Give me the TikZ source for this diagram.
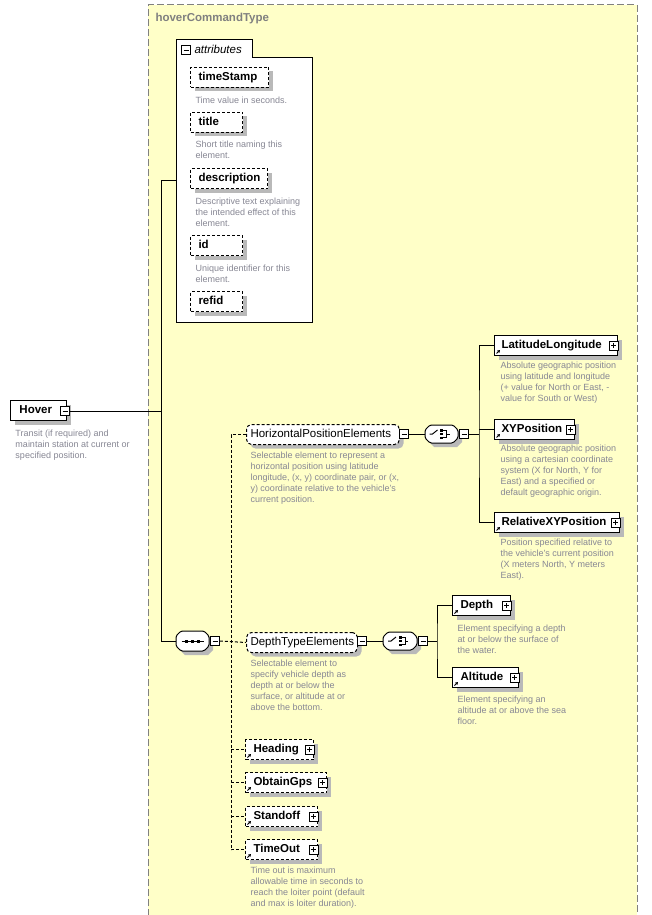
\documentclass[tikz,border=0pt]{standalone}
\usepackage{fontspec}
\setmainfont{Liberation Sans}
\usetikzlibrary{shadows,arrows.meta}
\definecolor{ybg}{RGB}{255,255,200}
\definecolor{ygrid}{RGB}{128,128,128}
\definecolor{desc}{RGB}{135,135,148}
\definecolor{shadowgray}{RGB}{185,185,185}
\tikzset{
  elem/.style={draw=black, fill=white, anchor=north west, inner xsep=0pt, inner ysep=0pt,
    minimum height=20pt, align=left, text height=8.5pt, text depth=2.5pt,
    font=\fontsize{11.5}{13}\selectfont\bfseries,
    drop shadow={fill=shadowgray, opacity=1, shadow xshift=4pt, shadow yshift=-4pt}},
  opt/.style={dash pattern=on 3pt off 2pt},
  grp/.style={elem, rounded corners=5pt, font=\fontsize{11.5}{13}\selectfont},
  dsc/.style={anchor=north west, inner sep=0pt, align=left, text=desc, font=\fontsize{9}{11}\selectfont},
  pm/.style={draw=black, fill=white, minimum size=9pt, inner sep=0pt, line width=0.8pt},
  anchorbox/.style={minimum width=#1, minimum height=19pt, inner sep=0pt},
  conn/.style={line width=1pt},
  dconn/.style={line width=1pt, dash pattern=on 3pt off 2pt},
  refarr/.style={line width=0.9pt, -{Triangle[length=2.6pt,width=3pt]}},
}
\newcommand\minusin[1]{\draw[line width=0.8pt] ([xshift=-2.5pt]#1.center) -- ([xshift=2.5pt]#1.center);}
\newcommand\plusin[1]{\minusin{#1}\draw[line width=0.8pt] ([yshift=-2.5pt]#1.center) -- ([yshift=2.5pt]#1.center);}
\newcommand\refmark[1]{\draw[refarr] ([xshift=2.5pt,yshift=2.5pt]#1.south west) -- ++(3.5,-3.5);}
\newcommand\octa[4]{(#1+5,#2) -- (#3-5,#2) -- (#3,#2+5) -- (#3,#4-5) -- (#3-5,#4) -- (#1+5,#4) -- (#1,#4-5) -- (#1,#2+5) -- cycle}
\begin{document}
\begin{tikzpicture}[x=1pt,y=-1pt,line width=1pt]
\useasboundingbox[fill=white] (0,0) rectangle (652,915);
% yellow complex type area
\fill[ybg] (148,5) rectangle (637,915);
\draw[ygrid, dash pattern=on 7pt off 3pt] (148,916) -- (148,5) -- (637,5) -- (637,916);
\node[anchor=west, inner sep=0pt, text=ygrid, font=\fontsize{11.5}{13}\selectfont\bfseries] (ttl) at (155,19) {hoverCommandType};

% attributes frame
\draw[fill=white] (176,322) -- (176,40) -- (252,40) -- (252,58) -- (312,58) -- (312,322) -- cycle;
\node[pm] (attrm) at (186,50) {}; \minusin{attrm}
\node[anchor=west, inner sep=0pt, font=\fontsize{11.5}{13}\selectfont\itshape] (attrt) at (194,49) {attributes};
\coordinate (attrL) at (176,180);

\node[elem,opt,text width=78pt] (ts) at (190,67) {\hspace*{8pt}timeStamp};
\node[dsc] (tsd) at (195,96) {Time value in seconds.};
\node[elem,opt,text width=52pt] (tt) at (190,112) {\hspace*{8pt}title};
\node[dsc] (ttd) at (195,140) {Short title naming this\\element.};
\node[elem,opt,text width=77pt] (de) at (190,168) {\hspace*{8pt}description};
\node[dsc] (ded) at (195,197) {Descriptive text explaining\\the intended effect of this\\element.};
\node[elem,opt,text width=52pt] (idn) at (190,235) {\hspace*{8pt}id};
\node[dsc] (idd) at (195,264) {Unique identifier for this\\element.};
\node[elem,opt,text width=52pt] (rf) at (190,291) {\hspace*{8pt}refid};

% Hover root
\node[elem,text width=56pt] (hover) at (10,400) {\hspace*{9pt}Hover};
\node[pm] (hoverm) at (65,411) {}; \minusin{hoverm}
\node[dsc] (hoverd) at (15,429) {Transit (if required) and\\maintain station at current or\\specified position.};

% sequence
\coordinate (trunk) at (161,641);
\fill[shadowgray, shift={(4,4)}] \octa{176}{631}{209}{651};
\draw[fill=white, rounded corners=1.5pt] \octa{176}{631}{209}{651};
\node[anchorbox=33pt] (seq) at (192.5,641) {};
\begin{scope}[shift={(192.5,641)}]
  \draw[line width=1pt] (-11,0) -- (11,0);
  \fill (-7.5,-1.5) rectangle (-4.5,1.5);
  \fill (-1.5,-1.5) rectangle (1.5,1.5);
  \fill (4.5,-1.5) rectangle (7.5,1.5);
\end{scope}
\node[pm] (seqm) at (215,641) {}; \minusin{seqm}

\draw[conn] (hoverm.east) -- (hoverm.east -| trunk);
\draw[conn] (attrL) -| (trunk) -- (seq.west);

% HorizontalPositionElements
\node[grp,opt,text width=153pt] (hpe) at (246,424) {\hspace*{4pt}HorizontalPositionElements};
\node[pm] (hpem) at (404,434) {}; \minusin{hpem}
\node[dsc] (hped) at (250,451) {Selectable element to represent a\\horizontal position using latitude\\longitude, (x, y) coordinate pair, or (x,\\y) coordinate relative to the vehicle's\\current position.};

\fill[shadowgray, shift={(4,4)}] \octa{425}{425}{458}{443};
\draw[fill=white, rounded corners=1.5pt] \octa{425}{425}{458}{443};
\node[anchorbox=33pt] (ch1) at (441.5,434) {};
\begin{scope}[shift={(441.5,434)}]
  \draw[line width=1pt] (-12,0) -- (-9,0) -- (-4,-4);
  \fill (-1.5,-5) rectangle (1.5,-2.5);
  \fill (-1.5,-1.3) rectangle (1.5,1.3);
  \fill (-1.5,2.5) rectangle (1.5,5);
  \draw[line width=1pt] (1.5,-3.75) -- (5,-3.75) -- (5,3.75) -- (1.5,3.75);
  \draw[line width=1pt] (5,0) -- (8,0);
\end{scope}
\node[pm] (ch1m) at (464,434) {}; \minusin{ch1m}
\coordinate (c1x) at (479,434);

\node[elem,text width=123pt] (latlon) at (494,335) {\hspace*{7pt}LatitudeLongitude};
\node[pm] (latlonp) at ([xshift=-4.5pt]latlon.east) {}; \plusin{latlonp} \refmark{latlon}
\node[dsc] (latlond) at (500,361) {Absolute geographic position\\using latitude and longitude\\(+ value for North or East, -\\value for South or West)};
\node[elem,text width=80pt] (xy) at (494,419) {\hspace*{7pt}XYPosition};
\node[pm] (xyp) at ([xshift=-4.5pt]xy.east) {}; \plusin{xyp} \refmark{xy}
\node[dsc] (xyd) at (500,444) {Absolute geographic position\\using a cartesian coordinate\\system (X for North, Y for\\East) and a specified or\\default geographic origin.};
\node[elem,text width=125pt] (rel) at (494,512) {\hspace*{7pt}RelativeXYPosition};
\node[pm] (relp) at ([xshift=-4.5pt]rel.east) {}; \plusin{relp} \refmark{rel}
\node[dsc] (reld) at (500,538) {Position specified relative to\\the vehicle's current position\\(X meters North, Y meters\\East).};

\draw[conn] (hpem.east) -- (ch1.west);
\draw[conn] (ch1m.east) -- (c1x);
\draw[conn] (latlon.west) -| (c1x) |- (rel.west);
\draw[conn] (xy.west) -- (xy.west -| c1x);

% DepthTypeElements
\node[grp,opt,text width=111pt] (dte) at (246,632) {\hspace*{4pt}DepthTypeElements};
\node[pm] (dtem) at (362,641) {}; \minusin{dtem}
\node[dsc] (dted) at (250,659) {Selectable element to\\specify vehicle depth as\\depth at or below the\\surface, or altitude at or\\above the bottom.};

\fill[shadowgray, shift={(4,4)}] \octa{383}{632}{417}{650};
\draw[fill=white, rounded corners=1.5pt] \octa{383}{632}{417}{650};
\node[anchorbox=34pt] (ch2) at (400,641) {};
\begin{scope}[shift={(400,641)}]
  \draw[line width=1pt] (-12,0) -- (-9,0) -- (-4,-4);
  \fill (-1.5,-5) rectangle (1.5,-2.5);
  \fill (-1.5,-1.3) rectangle (1.5,1.3);
  \fill (-1.5,2.5) rectangle (1.5,5);
  \draw[line width=1pt] (1.5,-3.75) -- (5,-3.75) -- (5,3.75) -- (1.5,3.75);
  \draw[line width=1pt] (5,0) -- (8,0);
\end{scope}
\node[pm] (ch2m) at (423,641) {}; \minusin{ch2m}
\coordinate (c2x) at (437,641);

\node[elem,text width=58pt] (depth) at (452,595) {\hspace*{8pt}Depth};
\node[pm] (depthp) at ([xshift=-4.5pt]depth.east) {}; \plusin{depthp} \refmark{depth}
\node[dsc] (depthd) at (457,624) {Element specifying a depth\\at or below the surface of\\the water.};
\node[elem,text width=66pt] (alt) at (452,667) {\hspace*{8pt}Altitude};
\node[pm] (altp) at ([xshift=-4.5pt]alt.east) {}; \plusin{altp} \refmark{alt}
\node[dsc] (altd) at (457,695) {Element specifying an\\altitude at or above the sea\\floor.};

\draw[conn] (dtem.east) -- (ch2.west);
\draw[conn] (ch2m.east) -- (c2x);
\draw[conn] (depth.west) -| (c2x) |- (alt.west);

% optional referenced elements
\node[elem,opt,text width=68pt] (heading) at (245,739) {\hspace*{8pt}Heading};
\node[pm] (headingp) at ([xshift=-4.5pt]heading.east) {}; \plusin{headingp} \refmark{heading}
\node[elem,opt,text width=81pt] (gps) at (245,772) {\hspace*{8pt}ObtainGps};
\node[pm] (gpsp) at ([xshift=-4.5pt]gps.east) {}; \plusin{gpsp} \refmark{gps}
\node[elem,opt,text width=72pt] (standoff) at (245,806) {\hspace*{8pt}Standoff};
\node[pm] (standoffp) at ([xshift=-4.5pt]standoff.east) {}; \plusin{standoffp} \refmark{standoff}
\node[elem,opt,text width=72pt] (timeout) at (245,839) {\hspace*{8pt}TimeOut};
\node[pm] (timeoutp) at ([xshift=-4.5pt]timeout.east) {}; \plusin{timeoutp} \refmark{timeout}
\node[dsc] (timeoutd) at (250,866) {Time out is maximum\\allowable time in seconds to\\reach the loiter point (default\\and max is loiter duration).};

% dashed sequence connectors
\coordinate (dvx) at (231,641);
\draw[dconn] (seqm.east) -- (dte.west);
\draw[dconn] (hpe.west) -- (hpe.west -| dvx) -- (timeout.west -| dvx) -- (timeout.west);
\draw[dconn] (heading.west -| dvx) -- (heading.west);
\draw[dconn] (gps.west -| dvx) -- (gps.west);
\draw[dconn] (standoff.west -| dvx) -- (standoff.west);
\end{tikzpicture}
\end{document}
